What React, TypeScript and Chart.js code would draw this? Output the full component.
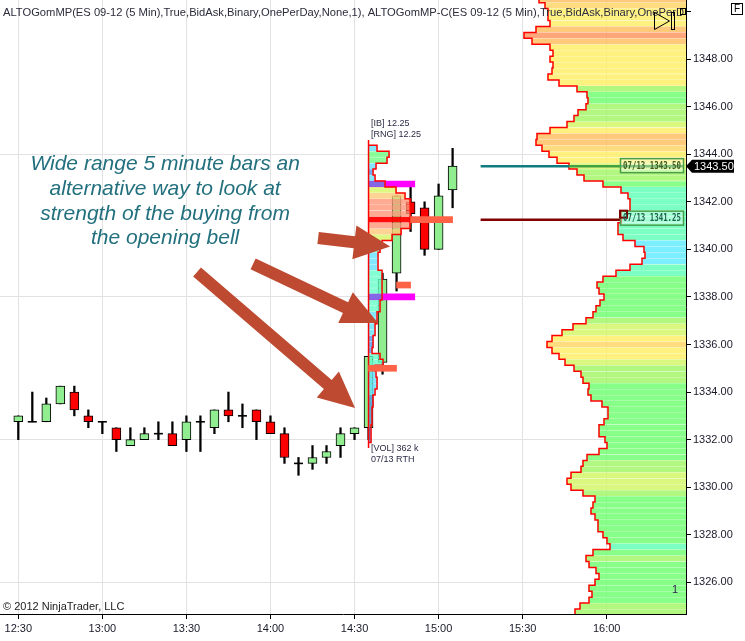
import React, { useEffect, useRef } from 'react';
import { Chart, registerables } from 'chart.js';

Chart.register(...registerables);

// ---------- 5 minute candles (bar close time, minutes after midnight) ----------
const barTimes = [750, 755, 760, 765, 770, 775, 780, 785, 790, 795, 800, 805, 810, 815, 820, 825, 830, 835, 840, 845, 850, 855, 860, 865, 870, 875, 880, 885, 890, 895, 900, 905];
const opens = [1332.75, 1332.75, 1332.75, 1333.5, 1334.0, 1333.0, 1332.75, 1332.5, 1331.75, 1332.0, 1332.25, 1332.25, 1332.0, 1332.75, 1332.5, 1333.25, 1333.0, 1333.25, 1332.75, 1332.25, 1331.0, 1331.0, 1331.25, 1331.75, 1332.25, 1332.5, 1335.25, 1339.0, 1342.0, 1341.75, 1340.0, 1342.5];
const highs = [1333.0, 1334.0, 1333.75, 1334.25, 1334.25, 1333.25, 1332.75, 1332.5, 1332.5, 1332.5, 1332.75, 1332.75, 1333.0, 1333.0, 1333.25, 1334.0, 1333.5, 1333.25, 1333.0, 1332.5, 1331.25, 1331.75, 1331.75, 1332.5, 1332.5, 1335.5, 1339.0, 1342.25, 1342.75, 1342.0, 1342.75, 1344.25];
const lows = [1332.0, 1332.75, 1332.75, 1333.5, 1333.0, 1332.5, 1332.25, 1331.5, 1331.75, 1332.0, 1332.0, 1331.75, 1331.5, 1331.5, 1332.25, 1332.75, 1332.5, 1332.0, 1332.25, 1331.0, 1330.5, 1330.75, 1331.0, 1331.25, 1332.0, 1332.0, 1334.75, 1338.25, 1340.75, 1339.75, 1340.0, 1341.75];
const closes = [1333.0, 1332.75, 1333.5, 1334.25, 1333.25, 1332.75, 1332.75, 1332.0, 1332.0, 1332.25, 1332.25, 1331.75, 1332.75, 1332.75, 1333.25, 1333.0, 1333.0, 1332.75, 1332.25, 1331.25, 1331.0, 1331.25, 1331.5, 1332.25, 1332.5, 1335.5, 1338.75, 1342.25, 1341.5, 1340.0, 1342.25, 1343.5];

// ---------- composite volume profile (right side) ----------
const profilePrices = [
  1350.5, 1350.25, 1350.0, 1349.75, 1349.5, 1349.25, 1349.0, 1348.75, 1348.5, 1348.25,
  1348.0, 1347.75, 1347.5, 1347.25, 1347.0, 1346.75, 1346.5, 1346.25, 1346.0, 1345.75,
  1345.5, 1345.25, 1345.0, 1344.75, 1344.5, 1344.25, 1344.0, 1343.75, 1343.5, 1343.25,
  1343.0, 1342.75, 1342.5, 1342.25, 1342.0, 1341.75, 1341.5, 1341.25, 1341.0, 1340.75,
  1340.5, 1340.25, 1340.0, 1339.75, 1339.5, 1339.25, 1339.0, 1338.75, 1338.5, 1338.25,
  1338.0, 1337.75, 1337.5, 1337.25, 1337.0, 1336.75, 1336.5, 1336.25, 1336.0, 1335.75,
  1335.5, 1335.25, 1335.0, 1334.75, 1334.5, 1334.25, 1334.0, 1333.75, 1333.5, 1333.25,
  1333.0, 1332.75, 1332.5, 1332.25, 1332.0, 1331.75, 1331.5, 1331.25, 1331.0, 1330.75,
  1330.5, 1330.25, 1330.0, 1329.75, 1329.5, 1329.25, 1329.0, 1328.75, 1328.5, 1328.25,
  1328.0, 1327.75, 1327.5, 1327.25, 1327.0, 1326.75, 1326.5, 1326.25, 1326.0, 1325.75,
  1325.5, 1325.25, 1325.0, 1324.75,
];
const profileVolume = [
  147, 141, 138, 138, 136, 150, 162, 154, 136, 133,
  136, 133, 134, 138, 127, 109, 99, 98, 100, 108,
  112, 119, 136, 149, 150, 144, 137, 129, 117, 109,
  102, 83, 65, 58, 56, 56, 65, 65, 68, 68,
  63, 51, 42, 41, 44, 56, 70, 83, 89, 87,
  82, 86, 90, 93, 100, 113, 124, 134, 139, 134,
  127, 121, 112, 105, 103, 97, 98, 95, 84, 78,
  78, 82, 87, 87, 81, 79, 87, 99, 103, 105,
  115, 119, 115, 103, 91, 93, 95, 91, 88, 88,
  83, 79, 76, 93, 100, 97, 90, 87, 91, 97,
  94, 97, 106, 111,
];

// ---------- 07/13 RTH session profile ----------
const sessionStart = 875;
const sessionPrices = [
  1344.25, 1344.0, 1343.75, 1343.5, 1343.25, 1343.0, 1342.75, 1342.5, 1342.25, 1342.0,
  1341.75, 1341.5, 1341.25, 1341.0, 1340.75, 1340.5, 1340.25, 1340.0, 1339.75, 1339.5,
  1339.25, 1339.0, 1338.75, 1338.5, 1338.25, 1338.0, 1337.75, 1337.5, 1337.25, 1337.0,
  1336.75, 1336.5, 1336.25, 1336.0, 1335.75, 1335.5, 1335.25, 1335.0, 1334.75, 1334.5,
  1334.25, 1334.0, 1333.75, 1333.5, 1333.25, 1333.0, 1332.75, 1332.5, 1332.25, 1332.0,
];
const sessionVolume = [
  8.5, 20.5, 18.5, 7.5, 4.5, 6.5, 16.5, 27.5, 36.5, 41.5,
  42, 42, 43, 41.5, 32.5, 23.5, 13.5, 11.5, 9.5, 9.5,
  9.5, 13.5, 13.5, 13.5, 13.5, 13.5, 11.5, 11.5, 8.5, 8.5,
  6.5, 6.5, 4.5, 4.5, 3.5, 11.5, 14.5, 6.5, 7.5, 8.5,
  8.5, 6.5, 4.5, 4.5, 3.5, 3.5, 3.5, 2.5, 2.5, 2.5,
];
const vaPrices = [1342.75, 1338.0];
const vaMarkerEnd = 891.5;
const dpocPrices = [1335.0, 1338.5, 1341.25];
const dpocFrom = [875, 885, 890];
const dpocTo = [885, 890, 905];
const sessionDate = '07/13';
const sessionVolText = '362 k';

// ---------- composite levels ----------
const levelPrices = [1343.5, 1341.25];
const levelStart = 915;

// ---------- annotation ----------
const noteLines = ['Wide range 5 minute bars an', 'alternative way to look at', 'strength of the buying from', 'the opening bell'];
const noteTime = 802.4;
const notePrices = [1343.59, 1342.54, 1341.49, 1340.48];
const arrowTail = [[857.0, 1340.48], [833.8, 1339.39], [813.8, 1339.05]];
const arrowTip = [[882.7, 1340.12], [878.4, 1336.9], [870.2, 1333.33]];

const titleText = 'ALTOGomMP(ES 09-12 (5 Min),True,BidAsk,Binary,OnePerDay,None,1), ALTOGomMP-C(ES 09-12 (5 Min),True,BidAsk,Binary,OnePerD';

const FONT = '"Liberation Sans", Arial, Helvetica, sans-serif';
const TICK = 0.25;
const SESSION_MIN_PER_UNIT = 1 / 2.802;

const profileColor = (v: number) => {
  if (v >= 158) return 'rgba(255,150,100,0.85)';
  if (v >= 146) return 'rgba(255,192,100,0.85)';
  if (v >= 139) return 'rgba(255,214,105,0.85)';
  if (v >= 126) return 'rgba(255,238,105,0.85)';
  if (v >= 113) return 'rgba(212,246,105,0.85)';
  if (v >= 100) return 'rgba(165,246,105,0.85)';
  if (v >= 78) return 'rgba(115,255,115,0.85)';
  if (v >= 55) return 'rgba(100,255,185,0.85)';
  return 'rgba(100,235,255,0.85)';
};

const pocPrice = sessionPrices[sessionVolume.indexOf(Math.max(...sessionVolume))];
const sessionColor = (p: number, v: number) => {
  if (p === pocPrice) return 'rgba(255,0,0,0.95)';
  if (vaPrices.includes(p)) return 'rgba(115,115,225,0.9)';
  if (v >= 38) return 'rgba(255,150,120,0.8)';
  if (v >= 30) return 'rgba(255,200,120,0.8)';
  if (v >= 23) return 'rgba(215,245,100,0.8)';
  if (v >= 15) return 'rgba(110,255,130,0.8)';
  if (v >= 10) return 'rgba(100,255,200,0.8)';
  if (v >= 5) return 'rgba(100,225,255,0.8)';
  return 'rgba(80,150,230,0.8)';
};

function drawArrow(ctx: CanvasRenderingContext2D, x1: number, y1: number, x2: number, y2: number) {
  const shaft = 12, headW = 34, headL = 36;
  const dx = x2 - x1, dy = y2 - y1;
  const len = Math.hypot(dx, dy);
  const ux = dx / len, uy = dy / len;
  const nx = -uy, ny = ux;
  const bx = x2 - ux * headL, by = y2 - uy * headL;
  ctx.beginPath();
  ctx.moveTo(x1 + nx * shaft / 2, y1 + ny * shaft / 2);
  ctx.lineTo(bx + nx * shaft / 2, by + ny * shaft / 2);
  ctx.lineTo(bx + nx * headW / 2, by + ny * headW / 2);
  ctx.lineTo(x2, y2);
  ctx.lineTo(bx - nx * headW / 2, by - ny * headW / 2);
  ctx.lineTo(bx - nx * shaft / 2, by - ny * shaft / 2);
  ctx.lineTo(x1 - nx * shaft / 2, y1 - ny * shaft / 2);
  ctx.closePath();
  ctx.fillStyle = '#bd4a31';
  ctx.fill();
}

const overlayPlugin = {
  id: 'overlay',
  afterDraw(chart: any) {
    const { ctx, chartArea: a, scales } = chart;
    const xs = scales.x, ys = scales.y, xv = scales.xv;
    ctx.save();

    // composite levels
    const tealY = ys.getPixelForValue(levelPrices[0]);
    const tealEnd = xv.getPixelForValue(profileVolume[profilePrices.indexOf(levelPrices[0])]);
    ctx.lineWidth = 2.5;
    ctx.strokeStyle = '#0f7c80';
    ctx.beginPath(); ctx.moveTo(xs.getPixelForValue(levelStart), tealY); ctx.lineTo(tealEnd, tealY); ctx.stroke();
    ctx.strokeStyle = '#43a043';
    ctx.beginPath(); ctx.moveTo(tealEnd, tealY); ctx.lineTo(a.right - 2, tealY); ctx.stroke();

    const boxW = 63, boxH = 14, boxL = a.right - 3 - boxW;
    const redY = ys.getPixelForValue(levelPrices[1]);
    ctx.strokeStyle = '#800000';
    ctx.beginPath(); ctx.moveTo(xs.getPixelForValue(levelStart), redY); ctx.lineTo(boxL, redY); ctx.stroke();

    levelPrices.forEach((p, i) => {
      const py = ys.getPixelForValue(p);
      const top = py - boxH / 2 - (i === 1 ? 2 : 1);
      ctx.fillStyle = 'rgba(255,255,255,0.35)';
      ctx.fillRect(boxL, top, boxW, boxH);
      ctx.lineWidth = 1.5;
      ctx.strokeStyle = '#47a047';
      ctx.strokeRect(boxL + 0.5, top + 0.5, boxW, boxH);
      if (i === 1) {
        ctx.strokeStyle = '#7a0000';
        ctx.lineWidth = 2;
        ctx.strokeRect(boxL, top, 7, 7);
      }
      const txt = `${sessionDate} ${p.toFixed(2)}`;
      ctx.font = `bold 10px "DejaVu Sans Mono", monospace`;
      const w = ctx.measureText(txt).width;
      ctx.save();
      ctx.translate(boxL + 3, top + boxH / 2 + 1);
      ctx.scale(58 / w, 1);
      ctx.fillStyle = i === 0 ? '#3c5c22' : '#1d5f4c';
      ctx.textAlign = 'left';
      ctx.textBaseline = 'middle';
      ctx.fillText(txt, 0, 0);
      ctx.restore();
    });

    // last price tag
    const lastClose = closes[closes.length - 1];
    const ty = ys.getPixelForValue(lastClose);
    ctx.fillStyle = '#000';
    ctx.beginPath();
    ctx.moveTo(a.right, ty);
    ctx.lineTo(a.right + 6, ty - 6.5);
    ctx.lineTo(a.right + 48, ty - 6.5);
    ctx.lineTo(a.right + 48, ty + 6.5);
    ctx.lineTo(a.right + 6, ty + 6.5);
    ctx.closePath();
    ctx.fill();
    ctx.fillStyle = '#fff';
    ctx.font = `11px ${FONT}`;
    ctx.textAlign = 'left';
    ctx.textBaseline = 'middle';
    ctx.fillText(lastClose.toFixed(2), a.right + 8, ty + 0.5);

    // session texts
    const sx = xs.getPixelForValue(sessionStart) + 2.5;
    const ibHigh = Math.max(...sessionPrices), ibLow = Math.min(...sessionPrices);
    ctx.font = `9px ${FONT}`;
    ctx.fillStyle = '#2b2b45';
    ctx.fillText(`[IB] ${(ibHigh - ibLow).toFixed(2)}`, sx, ys.getPixelForValue(ibHigh) - 25);
    ctx.fillText(`[RNG] ${(ibHigh - ibLow).toFixed(2)}`, sx, ys.getPixelForValue(ibHigh) - 14);
    ctx.fillText(`[VOL] ${sessionVolText}`, sx, ys.getPixelForValue(ibLow) + 9);
    ctx.fillText(`${sessionDate} RTH`, sx, ys.getPixelForValue(ibLow) + 20);

    // annotation text
    ctx.font = `italic 21px ${FONT}`;
    ctx.fillStyle = '#22707e';
    ctx.textAlign = 'center';
    noteLines.forEach((t, i) => ctx.fillText(t, xs.getPixelForValue(noteTime), ys.getPixelForValue(notePrices[i])));

    // arrows
    arrowTail.forEach((tail, i) => {
      drawArrow(ctx, xs.getPixelForValue(tail[0]), ys.getPixelForValue(tail[1]), xs.getPixelForValue(arrowTip[i][0]), ys.getPixelForValue(arrowTip[i][1]));
    });

    // title
    ctx.font = `11px ${FONT}`;
    ctx.textAlign = 'left';
    ctx.fillStyle = '#2c2c3c';
    const tw = ctx.measureText(titleText).width;
    ctx.save();
    ctx.translate(3, 13);
    ctx.scale((a.right - 5) / tw, 1);
    ctx.fillText(titleText, 0, 0);
    ctx.restore();

    // copyright and misc
    ctx.fillStyle = '#222';
    ctx.fillText('\u00a9 2012 NinjaTrader, LLC', 3, a.bottom - 7);
    ctx.fillStyle = '#302050';
    ctx.fillText('1', a.right - 14, a.bottom - 24);

    // top-right icons
    ctx.strokeStyle = '#000';
    ctx.lineWidth = 1;
    ctx.beginPath(); ctx.moveTo(a.right - 31.5, 12.5); ctx.lineTo(a.right - 16.5, 21); ctx.lineTo(a.right - 31.5, 29.5); ctx.closePath(); ctx.stroke();
    ctx.strokeRect(a.right - 14.5, 12.5, 3, 17);
    ctx.strokeRect(a.right - 5.5, 8.5, 5, 6);
    ctx.strokeRect(731.5, 3.5, 11, 11);
    ctx.fillStyle = '#000';
    ctx.font = `10px ${FONT}`;
    ctx.textAlign = 'center';
    ctx.fillText('F', 737, 9.5);

    ctx.restore();
  },
};

export default function App() {
  const ref = useRef<HTMLCanvasElement>(null);
  useEffect(() => {
    document.body.style.margin = '0';
    const canvas = ref.current!;
    const half = TICK / 2;
    const idx = barTimes.map((_, i) => i);
    const bodyIdx = idx.filter((i) => opens[i] !== closes[i]);
    const dojiIdx = idx.filter((i) => opens[i] === closes[i]);
    const profileOutline = profilePrices.flatMap((p, i) => [
      { x: profileVolume[i], y: p + half },
      { x: profileVolume[i], y: p - half },
    ]);
    const sessionEnd = (v: number) => sessionStart + v * SESSION_MIN_PER_UNIT;
    const lastP = sessionPrices[sessionPrices.length - 1];
    const sessionOutline = [
      { x: sessionStart, y: sessionPrices[0] + half },
      ...sessionPrices.flatMap((p, i) => [
        { x: sessionEnd(sessionVolume[i]), y: p + half },
        { x: sessionEnd(sessionVolume[i]), y: p - half },
      ]),
      { x: sessionStart, y: lastP - half },
    ];
    const sessionLeft = [
      { x: sessionStart, y: sessionPrices[0] + 0.35 },
      { x: sessionStart, y: lastP - 0.35 },
    ];

    Chart.defaults.font.family = FONT;
    Chart.defaults.font.size = 11;

    const chart = new Chart(canvas, {
      type: 'bar',
      data: {
        datasets: [
          {
            type: 'bar', indexAxis: 'y', xAxisID: 'xv', yAxisID: 'y',
            data: profilePrices.map((p, i) => ({ x: profileVolume[i], y: p })),
            backgroundColor: profileVolume.map(profileColor),
            barThickness: 5, grouped: false, order: 20,
          } as any,
          {
            type: 'line', xAxisID: 'xv', yAxisID: 'y', data: profileOutline,
            borderColor: '#ff0000', borderWidth: 1.5, pointRadius: 0, tension: 0, fill: false, order: 19,
          } as any,
          {
            type: 'bar', xAxisID: 'x', yAxisID: 'y',
            data: barTimes.map((t, i) => ({ x: t, y: [lows[i], highs[i]] })),
            backgroundColor: '#000', barThickness: 1.6, grouped: false, order: 18,
          } as any,
          {
            type: 'bar', xAxisID: 'x', yAxisID: 'y',
            data: bodyIdx.map((i) => ({ x: barTimes[i], y: [opens[i], closes[i]] })),
            backgroundColor: bodyIdx.map((i) => (closes[i] > opens[i] ? '#90ee90' : '#ff0000')),
            borderColor: '#000', borderWidth: 1, borderSkipped: false, barThickness: 9, grouped: false, order: 17,
          } as any,
          {
            type: 'line', xAxisID: 'x', yAxisID: 'y',
            data: dojiIdx.map((i) => ({ x: barTimes[i], y: opens[i] })),
            showLine: false, pointStyle: 'line', pointRadius: 4.5, pointBorderWidth: 1.6,
            pointBorderColor: '#000', borderColor: '#000', order: 16,
          } as any,
          {
            type: 'bar', indexAxis: 'y', xAxisID: 'x', yAxisID: 'y',
            data: vaPrices.map((p) => ({ y: p, x: [sessionStart, vaMarkerEnd] })),
            backgroundColor: '#ff00ff', barThickness: 6, grouped: false, order: 15,
          } as any,
          {
            type: 'bar', indexAxis: 'y', xAxisID: 'x', yAxisID: 'y',
            data: sessionPrices.map((p, i) => ({ y: p, x: [sessionStart, sessionEnd(sessionVolume[i])] })),
            backgroundColor: sessionPrices.map((p, i) => sessionColor(p, sessionVolume[i])),
            barThickness: 5, grouped: false, order: 14,
          } as any,
          {
            type: 'line', xAxisID: 'x', yAxisID: 'y', data: sessionOutline,
            borderColor: '#ff0000', borderWidth: 1.5, pointRadius: 0, tension: 0, fill: false, order: 13,
          } as any,
          {
            type: 'line', xAxisID: 'x', yAxisID: 'y', data: sessionLeft,
            borderColor: '#ff0000', borderWidth: 1.5, pointRadius: 0, tension: 0, fill: false, order: 13,
          } as any,
          {
            type: 'bar', indexAxis: 'y', xAxisID: 'x', yAxisID: 'y',
            data: dpocPrices.map((p, i) => ({ y: p, x: [dpocFrom[i], dpocTo[i]] })),
            backgroundColor: '#ff6347', barThickness: 6, grouped: false, order: 12,
          } as any,
        ],
      },
      options: {
        animation: false,
        responsive: false,
        devicePixelRatio: 1,
        events: [],
        layout: { padding: 0, autoPadding: false },
        plugins: { legend: { display: false }, tooltip: { enabled: false } },
        scales: {
          x: {
            type: 'linear', position: 'bottom', min: 743.47, max: 988.3, offset: false,
            grid: { offset: false, color: '#e2e2e2', tickColor: '#000', tickLength: 5, drawOnChartArea: true },
            border: { display: true, color: '#000', width: 1 },
            ticks: {
              stepSize: 30, includeBounds: false, autoSkip: false, maxRotation: 0, padding: 3, color: '#1a1a2a',
              font: { size: 11, family: FONT },
              callback: (v: any) => `${Math.floor(v / 60)}:${String(v % 60).padStart(2, '0')}`,
            },
            afterFit: (s: any) => { s.height = 27; s.paddingLeft = 0; s.paddingRight = 0; },
          },
          xv: {
            type: 'linear', axis: 'x', display: false, min: 0, max: 686, reverse: true, offset: false,
            grid: { offset: false },
          },
          y: {
            type: 'linear', position: 'right', min: 1324.667, max: 1350.487, offset: false, beginAtZero: false,
            grid: {
              offset: false, tickColor: '#000', tickLength: 5,
              color: (c: any) => (c.tick && c.tick.value % 6 === 0 && c.tick.value < 1350 ? '#e2e2e2' : 'rgba(0,0,0,0)'),
            },
            border: { display: true, color: '#000', width: 1 },
            ticks: {
              stepSize: 2, includeBounds: false, autoSkip: false, padding: 2, color: '#1a1a2a',
              font: { size: 11, family: FONT },
              callback: (v: any) => (v === 1350 ? '' : Number(v).toFixed(2)),
            },
            afterFit: (s: any) => { s.width = 59; s.paddingTop = 0; s.paddingBottom = 0; },
          },
        },
      } as any,
      plugins: [overlayPlugin],
    });
    return () => chart.destroy();
  }, []);
  return (
    <div style={{ position: 'absolute', left: 0, top: 0, width: 745, height: 641 }}>
      <canvas ref={ref} width={745} height={641} style={{ display: 'block', width: 745, height: 641 }} />
    </div>
  );
}
